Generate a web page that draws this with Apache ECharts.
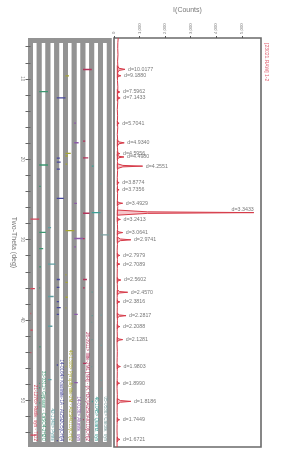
<!DOCTYPE html>
<html><head><meta charset="utf-8">
<script src="https://cdn.jsdelivr.net/npm/echarts@6/dist/echarts.min.js"></script>
<style>html,body{margin:0;padding:0;background:#fff}#c{width:288px;height:469px}</style>
</head><body><div id="c"></div>
<script>
// ---------- DATA ----------
// diffraction peaks (2-theta deg, peak counts, half width deg, d-spacing label)
const peakTheta  = [8.820, 9.619, 11.640, 12.381, 15.523, 17.964, 19.300, 19.721, 20.860, 22.917, 23.800, 25.481, 26.642, 27.497, 29.124, 30.027, 31.966, 33.047, 35.027, 36.550, 37.749, 39.463, 40.821, 42.442, 45.790, 47.870, 50.125, 52.406, 54.861];
const peakCounts = [430, 270, 230, 240, 200, 400, 230, 390, 1120, 200, 200, 340, 5470, 250, 340, 660, 230, 230, 270, 535, 230, 470, 230, 340, 250, 220, 660, 220, 235];
const peakHalfW  = [0.45, 0.3, 0.3, 0.35, 0.3, 0.4, 0.25, 0.3, 0.3, 0.25, 0.25, 0.3, 0.32, 0.25, 0.3, 0.35, 0.25, 0.25, 0.3, 0.3, 0.25, 0.3, 0.25, 0.3, 0.3, 0.25, 0.35, 0.25, 0.3];
const peakD      = ['10.0177','9.1880','7.5962','7.1433','5.7041','4.9340','4.5956','4.4980','4.2551','3.8774','3.7356','3.4929','3.3433','3.2413','3.0641','2.9741','2.7979','2.7089','2.5602','2.4570','2.3816','2.2817','2.2088','2.1281','1.9803','1.8990','1.8186','1.7449','1.6721'];
const peakBase = 130;
// background of the scan
const bgTheta  = [4.92,5.5,6.2,7.0,7.8,8.4,9.2,10.2,11.0,12.0,12.9,13.8,14.6,15.2,16.1,16.9,17.5,18.5,19.1,20.3,21.4,22.3,23.3,24.3,25.1,25.9,27.1,28.1,28.7,29.6,30.6,31.4,32.5,33.6,34.4,35.6,36.2,37.2,38.4,39.0,40.1,41.4,42.0,43.0,43.9,44.7,45.3,46.4,47.3,48.5,49.3,50.7,51.5,52.0,53.0,53.8,54.4,55.3,55.8];
const bgCounts = [165,150,145,155,140,150,145,135,150,140,145,130,140,135,145,130,140,135,145,135,140,130,135,140,135,145,130,135,140,130,135,125,135,130,125,130,135,125,130,125,135,125,130,120,130,125,120,130,125,120,130,125,120,128,122,118,125,118,122];
// axis ticks
const countTicks  = [0, 1000, 2000, 3000, 4000, 5000];
const thetaTicks  = [6,8,10,12,14,16,18,20,22,24,26,28,30,32,34,36,38,40,42,44,46,48,50,52,54];
const thetaLabels = [10, 20, 30, 40, 50];
// reference phase stick patterns (2-theta, relative intensity)
const rutileTheta = [27.45, 36.09, 39.19, 41.25, 44.05, 54.33];
const rutileI     = [100, 50, 8, 25, 10, 60];
const gypsumTheta = [11.59, 20.72, 23.39, 29.11, 31.12, 33.38, 36.0, 43.35, 47.88, 48.43, 50.3];
const gypsumI     = [100, 100, 17, 75, 45, 20, 10, 16, 9, 10, 12];
const pyriteTheta = [28.51, 33.04, 37.08, 40.78, 47.42];
const pyriteI     = [35, 85, 65, 50, 40];
const kaolTheta   = [12.36, 19.86, 20.36, 21.24, 24.88, 34.96, 35.94, 37.72, 38.46, 39.3, 45.6, 55.0];
const kaolI       = [100, 35, 45, 35, 80, 35, 30, 25, 45, 25, 15, 12];
const pyroTheta   = [9.62, 19.27, 19.6, 20.6, 28.89, 34.37, 35.32, 37.17, 38.5, 45.8];
const pyroI       = [40, 60, 25, 20, 100, 10, 25, 25, 10, 10];
const aluTheta    = [15.5, 17.95, 25.5, 29.86, 30.9, 39.3, 47.8, 52.2];
const aluI        = [20, 50, 30, 100, 20, 40, 40, 20];
const illTheta    = [8.84, 17.76, 19.84, 26.72, 29.88, 34.96, 36.0, 45.4, 52.4];
const illI        = [100, 25, 60, 75, 20, 45, 20, 35, 10];
const qtzTheta    = [20.86, 26.64, 36.54, 39.46, 40.29, 42.45, 45.79, 50.14, 54.87];
const qtzI        = [22, 100, 8, 8, 4, 6, 4, 14, 4];
const calTheta    = [23.06, 29.41, 35.97, 39.4, 43.15, 47.11, 47.5, 48.52];
const calI        = [12, 100, 14, 18, 18, 5, 17, 17];
const phaseLabels = [
  '21-1276> Rutile, syn - TiO2',
  '33-0311> Gypsum - CaSO4·2H2O',
  '42-1340> Pyrite',
  '14-0164> Kaolinite-1A - Al2Si2O5(OH)4',
  '46-1308> Pyrophyllite-2M - Al2Si4O10(OH)2',
  '14-0136> Alunite, syn',
  '26-0911> Illite-2M1 [NR] - (K,H3O)Al2Si3AlO10(OH)2',
  '46-1045> Quartz, syn',
  '05-0586> Calcite, syn'
];
const phaseTheta = [rutileTheta, gypsumTheta, pyriteTheta, kaolTheta, pyroTheta, aluTheta, illTheta, qtzTheta, calTheta];
const phaseI     = [rutileI, gypsumI, pyriteI, kaolI, pyroI, aluI, illI, qtzI, calI];
const phaseColors = ['#d2465a','#3c9670','#5f9ea0','#46469b','#a5a532','#8c5aaa','#b4325a','#3ca096','#7a9e9e'];
const scanName = '[23021.RAW] 1-2';

// ---------- LAYOUT ----------
const FONT = '"Liberation Sans", Arial, sans-serif';
const TOP = 38, H = 409, TH_MIN = 4.92, TH_MAX = 55.8;
const K = H / (TH_MAX - TH_MIN);
const MAIN_L = 114, MAIN_W = 147, C_MAX = 5750;
const P_BORDER = 5, P_W = 8.75, P_L0 = 28 + P_BORDER / 2;
const pInset = P_BORDER / 2;
const RED = '#d63a48';

const grids = [{left: MAIN_L, top: TOP, width: MAIN_W, height: H, show: true, backgroundColor: '#fff', borderColor: '#6a6a6a', borderWidth: 1.6}];
const xAxes = [{
  gridIndex: 0, type: 'value', position: 'top', min: 0, max: C_MAX,
  axisLine: {show: false}, splitLine: {show: false},
  axisTick: {show: true, inside: false, length: 2, lineStyle: {color: '#555'}, customValues: countTicks},
  axisLabel: {rotate: -90, fontSize: 4.3, color: '#777', margin: 4, fontFamily: FONT, customValues: countTicks},
  name: 'I(Counts)', nameLocation: 'middle', nameGap: 24,
  nameTextStyle: {fontSize: 7, color: '#777', fontFamily: FONT}
}];
const yAxes = [{gridIndex: 0, type: 'value', inverse: true, min: TH_MIN, max: TH_MAX, show: false}];
const series = [];

phaseLabels.forEach((lab, i) => {
  const gi = i + 1;
  grids.push({left: P_L0 + P_W * i, top: TOP + pInset, width: P_W, height: H - 2 * pInset,
    show: true, backgroundColor: '#fff', borderColor: '#939393', borderWidth: P_BORDER});
  xAxes.push({gridIndex: gi, type: 'value', min: 0, max: 100, show: false});
  const y = {gridIndex: gi, type: 'value', inverse: true,
    min: TH_MIN + pInset / K, max: TH_MAX - pInset / K, show: i === 0,
    axisLine: {show: false}, splitLine: {show: false}};
  if (i === 0) {
    y.axisTick = {show: true, length: 5, lineStyle: {color: '#666'}, customValues: thetaTicks};
    y.axisLabel = {rotate: -90, fontSize: 4.5, color: '#777', margin: 6, fontFamily: FONT, customValues: thetaLabels};
    y.name = 'Two-Theta (deg)'; y.nameLocation = 'middle'; y.nameGap = 13; y.nameRotate = -90;
    y.nameTextStyle = {fontSize: 7, color: '#777', fontFamily: FONT};
  }
  yAxes.push(y);
  const col = phaseColors[i];
  series.push({
    type: 'custom', xAxisIndex: gi, yAxisIndex: gi, silent: true, clip: true,
    data: phaseTheta[i].map((t, j) => [phaseI[i][j], t]),
    renderItem: (params, api) => {
      const p0 = api.coord([0, api.value(1)]);
      const p1 = api.coord([api.value(0), api.value(1)]);
      return {type: 'line', shape: {x1: p0[0], y1: p0[1], x2: p1[0], y2: p1[1]},
        style: {stroke: col, lineWidth: 1.3}};
    }
  });
});

// scan background line
series.push({
  type: 'line', xAxisIndex: 0, yAxisIndex: 0, showSymbol: false, silent: true, z: 3,
  data: bgTheta.map((t, i) => [bgCounts[i], t]),
  lineStyle: {color: RED, width: 1}
});
// peaks
series.push({
  type: 'custom', xAxisIndex: 0, yAxisIndex: 0, silent: true, clip: true, z: 4,
  data: peakTheta.map((t, i) => [peakCounts[i], t, peakHalfW[i]]),
  renderItem: (params, api) => {
    const h = api.value(0), t = api.value(1), w = api.value(2), b = peakBase;
    const sh = b + (h - b) * 0.22;
    const pts = [[b, t - w], [sh, t - w * 0.3], [h, t], [sh, t + w * 0.3], [b, t + w]].map(p => api.coord(p));
    return {type: 'polygon', shape: {points: pts},
      style: {fill: 'rgba(238,140,150,0.5)', stroke: RED, lineWidth: 1}};
  }
});
// d-spacing labels
const bigIdx = peakCounts.indexOf(Math.max(...peakCounts));
series.push({
  type: 'scatter', xAxisIndex: 0, yAxisIndex: 0, symbolSize: 0.1, silent: true, z: 6,
  data: peakTheta.map((t, i) => i === bigIdx
    ? {value: [peakCounts[i], t], label: {position: 'left', distance: 0, offset: [0, -3.5]}}
    : {value: [peakCounts[i], t]}),
  label: {show: true, position: 'right', distance: 3, fontSize: 5.3, color: '#555', fontFamily: FONT,
    formatter: p => 'd=' + peakD[p.dataIndex]}
});

const graphic = phaseLabels.map((txt, i) => ({
  type: 'text', x: P_L0 + P_W * i + P_W / 2, y: 441, rotation: -Math.PI / 2, z: 20, silent: true,
  style: {text: txt, fill: phaseColors[i], font: '4.6px ' + FONT,
    textAlign: 'right', align: 'right', textVerticalAlign: 'middle', verticalAlign: 'middle'}
}));
graphic.push({
  type: 'text', x: 266, y: 43, rotation: -Math.PI / 2, z: 20, silent: true,
  style: {text: scanName, fill: '#e06070', font: '5px ' + FONT,
    textAlign: 'left', align: 'left', textVerticalAlign: 'middle', verticalAlign: 'middle'}
});

const chart = echarts.init(document.getElementById('c'), null, {renderer: 'canvas'});
chart.setOption({
  animation: false, backgroundColor: '#fff',
  grid: grids, xAxis: xAxes, yAxis: yAxes, series: series, graphic: graphic
});
</script></body></html>
